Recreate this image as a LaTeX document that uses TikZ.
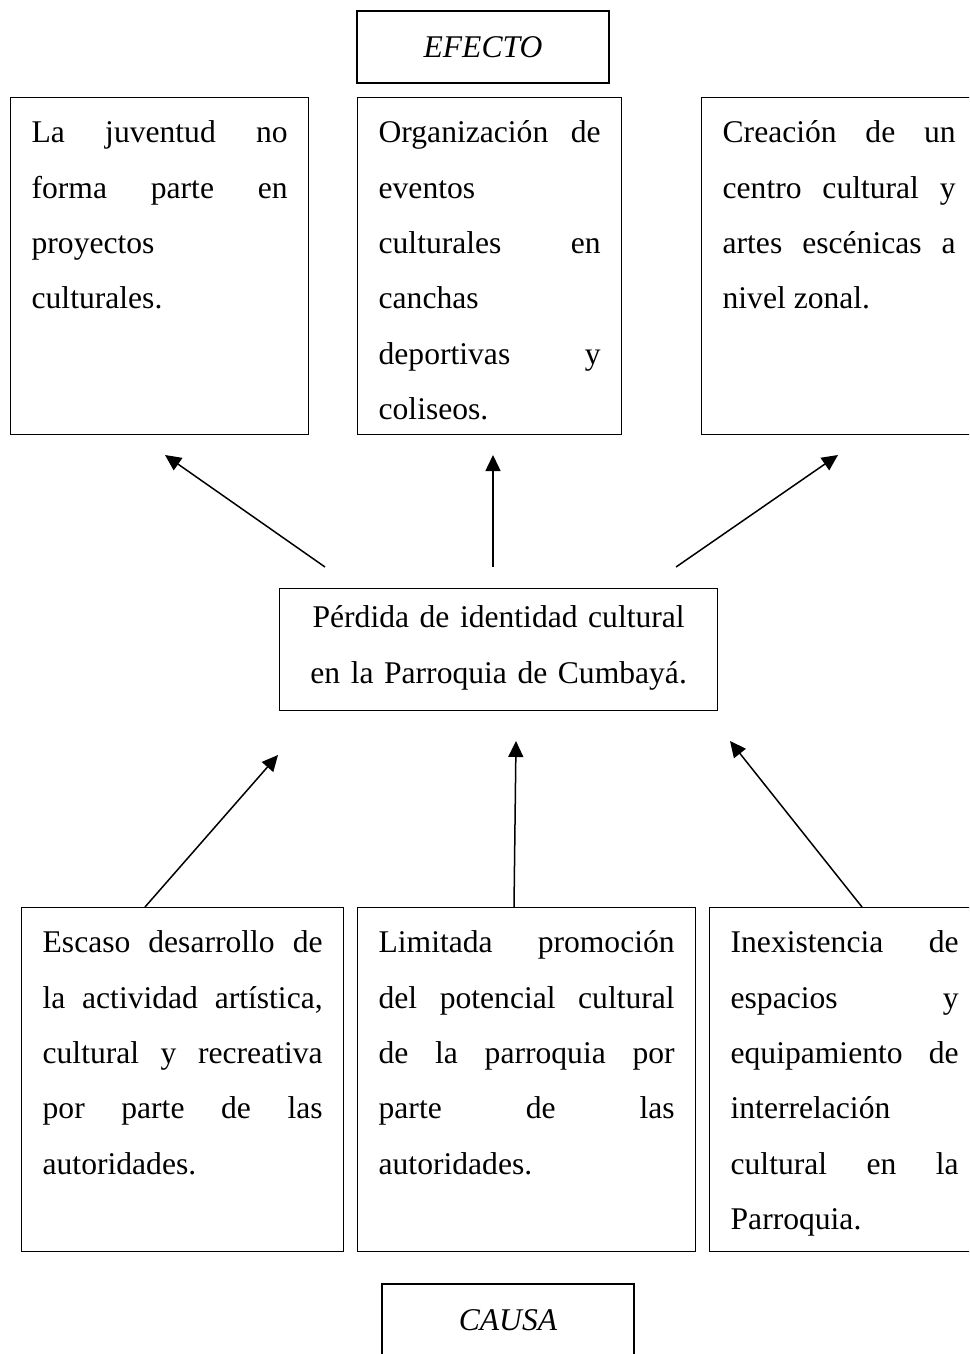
\documentclass[tikz,border=0pt]{standalone}
\usepackage{fontspec}
\setmainfont{Liberation Serif}
\usetikzlibrary{arrows.meta}

\newcommand{\textocaja}{\fontsize{15.8}{27.7}\selectfont\tolerance=10000\hyphenpenalty=10000}

\tikzset{
  caja/.style={draw, line width=0.65pt, anchor=north west, inner xsep=10.5pt, inner ysep=0pt,
    align=justify, text height=22.5pt, font=\textocaja},
  efbox/.style={caja, text depth=146pt},
  cabox/.style={caja, text depth=149.5pt},
  titulo/.style={draw, line width=0.65pt, minimum width=126pt, minimum height=36pt, font=\textocaja\itshape},
  flecha/.style={line width=0.75pt, -{Triangle[length=8pt,width=7.5pt]}}
}

\begin{document}
\begin{tikzpicture}[x=0.5pt, y=-0.5pt]
\useasboundingbox (0,0) rectangle (969,1354);
\clip (0,0) rectangle (969,1354);

% efectos
\node[titulo] (efecto) at (483,47) {EFECTO};
\node[efbox, text width=128pt] (ef1) at (10,97)
  {La juventud no\linebreak forma parte en\linebreak proyectos\linebreak culturales.};
\node[efbox, text width=111pt] (ef2) at (357,97)
  {Organización de\linebreak eventos\linebreak culturales en\linebreak canchas\linebreak deportivas y\linebreak coliseos.};
\node[efbox, text width=116.5pt] (ef3) at (701,97)
  {Creación de un\linebreak centro cultural y\linebreak artes escénicas a\linebreak nivel zonal.};

% problema central
\node[caja, align=center, text width=198pt, text height=19.5pt, text depth=41.5pt] (prob) at (279,588)
  {Pérdida de identidad cultural\\ en la Parroquia de Cumbayá.};

% causas
\node[cabox, text width=140pt] (ca1) at (21,907)
  {Escaso desarrollo de\linebreak la actividad artística,\linebreak cultural y recreativa\linebreak por parte de las\linebreak autoridades.};
\node[cabox, text width=148pt] (ca2) at (357,907)
  {Limitada promoción\linebreak del potencial cultural\linebreak de la parroquia por\linebreak parte de las\linebreak autoridades.};
\node[cabox, text width=114pt] (ca3) at (709,907)
  {Inexistencia de\linebreak espacios y\linebreak equipamiento de\linebreak interrelación\linebreak cultural en la\linebreak Parroquia.};
\node[titulo] (causa) at (508,1320) {CAUSA};

% flechas
\coordinate (sal1) at (325,567);
\coordinate (sal2) at (493,567);
\coordinate (sal3) at (676,567);
\coordinate (lle1) at (165,455);
\coordinate (lle2) at (493,455);
\coordinate (lle3) at (838,455);
\draw[flecha] (sal1) -- (lle1);
\draw[flecha] (sal2) -- (lle2);
\draw[flecha] (sal3) -- (lle3);

\coordinate (ori1) at (145,907);
\coordinate (ori2) at (514,907);
\coordinate (ori3) at (862,907);
\coordinate (fin1) at (278,755);
\coordinate (fin2) at (516,741);
\coordinate (fin3) at (730,741);
\draw[flecha] (ori1) -- (fin1);
\draw[flecha] (ori2) -- (fin2);
\draw[flecha] (ori3) -- (fin3);

\end{tikzpicture}
\end{document}
